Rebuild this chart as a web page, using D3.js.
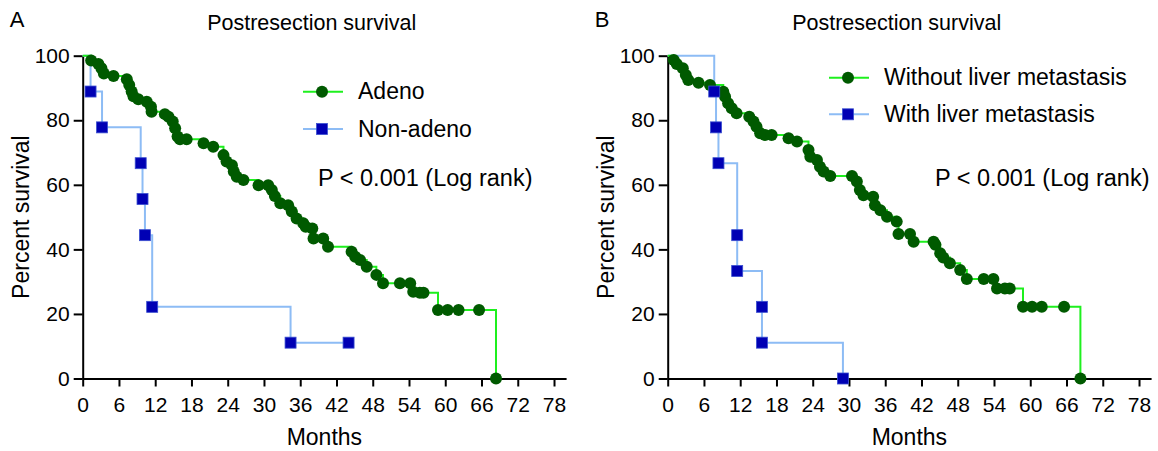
<!DOCTYPE html>
<html>
<head>
<meta charset="utf-8">
<script src="https://cdn.jsdelivr.net/npm/d3@7"></script>
<style>
  html, body { margin: 0; padding: 0; background: #fff; }
  svg { display: block; font-family: "Liberation Sans", Arial, sans-serif; }
</style>
</head>
<body>
<svg id="chart" width="1158" height="451"></svg>
<script>
// ---- data ----
const xTicks = [0, 6, 12, 18, 24, 30, 36, 42, 48, 54, 60, 66, 72, 78];
const yTicks = [0, 20, 40, 60, 80, 100];

// Panel A: Adeno
const adenoMonths = [1.4, 2.6, 3.1, 3.5, 5.1, 7.3, 7.7, 8.1, 8.4, 9.2, 10.6, 11.3, 11.4, 13.6, 14.2, 14.9, 15.3, 15.7, 16.1, 17.2,
  20.0, 21.6, 23.3, 23.8, 24.7, 25.0, 25.5, 26.6, 29.1, 30.7, 31.3, 31.8, 32.7, 34.0, 34.6, 35.4, 36.5, 36.9, 38.0, 38.2,
  39.8, 40.6, 44.5, 45.1, 45.9, 47.0, 48.6, 49.7, 52.5, 54.2, 54.7, 55.8, 56.4, 58.8, 60.4, 62.2, 65.6, 68.4];
const adenoSurv = [98.5, 97.4, 96.1, 94.5, 93.7, 92.7, 90.9, 88.9, 87.4, 86.5, 85.7, 84.2, 82.6, 81.9, 81.1, 79.6, 77.5, 75.0, 74.1, 74.1,
  72.9, 71.8, 69.2, 67.2, 66.1, 64.1, 62.5, 61.5, 59.9, 59.9, 58.4, 56.5, 54.3, 53.7, 51.7, 49.6, 48.1, 47.0, 46.5, 43.4,
  43.4, 40.8, 39.3, 37.7, 36.7, 34.6, 32.1, 29.5, 29.5, 29.5, 26.9, 26.6, 26.6, 21.2, 21.2, 21.2, 21.2, 0];

// Panel A: Non-adeno
const nonAdenoMonths = [1.3, 3.2, 9.6, 9.9, 10.3, 11.5, 34.4, 44.0];
const nonAdenoSurv = [88.9, 77.8, 66.7, 55.6, 44.4, 22.2, 11.1, 11.1];

// Panel B: Without liver metastasis
const noMetMonths = [1.0, 1.5, 2.5, 3.0, 3.4, 5.1, 7.0, 9.2, 9.5, 10.0, 10.6, 11.4, 13.5, 14.2, 14.7, 15.3, 16.1, 17.2,
  20.0, 21.4, 23.3, 23.6, 24.7, 25.2, 25.8, 26.9, 30.5, 31.3, 31.8, 32.4, 34.0, 34.3, 35.2, 36.3, 37.9, 38.2, 40.1, 40.7,
  44.0, 44.3, 45.1, 45.6, 46.7, 48.4, 49.5, 52.3, 53.9, 54.5, 55.8, 56.6, 58.8, 60.3, 61.9, 65.6, 68.3];
const noMetSurv = [98.7, 97.4, 96.1, 94.0, 92.5, 91.6, 90.9, 88.8, 87.3, 85.3, 83.7, 82.2, 81.1, 79.6, 78.0, 76.0, 75.4, 75.4,
  74.4, 73.4, 70.8, 68.7, 67.7, 65.6, 64.1, 62.7, 62.7, 61.0, 58.4, 56.8, 56.3, 53.7, 52.1, 50.1, 48.6, 44.8, 44.8, 42.4,
  42.4, 41.4, 38.8, 37.5, 35.7, 33.6, 30.8, 30.8, 30.8, 27.9, 27.9, 27.9, 22.2, 22.2, 22.2, 22.2, 0];

// Panel B: With liver metastasis
const metMonths = [7.7, 8.0, 8.4, 11.5, 11.5, 15.6, 15.6, 29.0];
const metSurv = [88.9, 77.8, 66.7, 44.4, 33.3, 22.2, 11.1, 0];

const GREEN_LINE = '#1ef01e', GREEN_DOT = '#005a00';
const BLUE_LINE = '#8dbcf5', BLUE_DOT = '#0000b4';

const svg = d3.select('#chart');

function series(months, surv) {
  return months.map((m, i) => ({ m, s: surv[i] }));
}

function drawPanel(o) {
  const x = d3.scaleLinear().domain([0, 80]).range([o.x0, o.x0 + 483.4]);
  const y = d3.scaleLinear().domain([0, 100]).range([378.5, 55.7]);
  const g = svg.append('g');

  // panel letter + title
  g.append('text').attr('x', o.x0 - 73).attr('y', 27).attr('font-size', 22).text(o.letter);
  g.append('text').attr('x', o.x0 + 229).attr('y', 30).attr('font-size', 21.5)
    .attr('text-anchor', 'middle').text('Postresection survival');

  // axes
  const ax = g.append('g').attr('transform', `translate(0,${y(0)})`)
    .call(d3.axisBottom(x).tickValues(xTicks).tickSize(8).tickPadding(11).tickSizeOuter(0));
  const ay = g.append('g').attr('transform', `translate(${x(0)},0)`)
    .call(d3.axisLeft(y).tickValues(yTicks).tickSize(9).tickPadding(4).tickSizeOuter(0));
  [ax, ay].forEach(a => {
    a.select('.domain').attr('stroke', '#000').attr('stroke-width', 2);
    a.selectAll('.tick line').attr('stroke', '#000').attr('stroke-width', 2);
    a.selectAll('text').attr('font-size', 21).attr('fill', '#000')
      .attr('font-family', '"Liberation Sans", Arial, sans-serif');
  });

  g.append('text').attr('x', (x(0) + x(80)) / 2).attr('y', 445).attr('font-size', 23)
    .attr('text-anchor', 'middle').text('Months');
  g.append('text').attr('transform', `translate(${o.x0 - 54},${y(50)}) rotate(-90)`)
    .attr('font-size', 23).attr('text-anchor', 'middle').text('Percent survival');

  const line = d3.line().x(d => x(d.m)).y(d => y(d.s)).curve(d3.curveStepAfter);

  // blue (drawn first), then green
  const blue = series(o.blueM, o.blueS);
  const green = series(o.greenM, o.greenS);

  g.append('path').datum([{ m: 0, s: 100 }, ...blue])
    .attr('fill', 'none').attr('stroke', BLUE_LINE).attr('stroke-width', 2).attr('d', line);
  g.append('path').datum([{ m: 0, s: 100 }, ...green])
    .attr('fill', 'none').attr('stroke', GREEN_LINE).attr('stroke-width', 2).attr('d', line);

  g.append('g').selectAll('circle').data(green).join('circle')
    .attr('cx', d => x(d.m)).attr('cy', d => y(d.s)).attr('r', 6)
    .attr('fill', GREEN_DOT);
  g.append('g').selectAll('rect').data(blue).join('rect')
    .attr('x', d => x(d.m) - 5.5).attr('y', d => y(d.s) - 5.5)
    .attr('width', 11).attr('height', 11)
    .attr('fill', BLUE_DOT).attr('stroke', '#3a4fd0').attr('stroke-width', 0.8);

  // legend
  const lg = g.append('g');
  const rows = [
    { label: o.greenLabel, y: o.legY[0], color: GREEN_LINE, shape: 'circle' },
    { label: o.blueLabel, y: o.legY[1], color: BLUE_LINE, shape: 'square' }
  ];
  rows.forEach(r => {
    lg.append('line').attr('x1', o.legX).attr('x2', o.legX + 40)
      .attr('y1', r.y).attr('y2', r.y).attr('stroke', r.color).attr('stroke-width', 2);
    if (r.shape === 'circle') {
      lg.append('circle').attr('cx', o.legX + 19).attr('cy', r.y).attr('r', 6).attr('fill', GREEN_DOT);
    } else {
      lg.append('rect').attr('x', o.legX + 13.5).attr('y', r.y - 5.5).attr('width', 11).attr('height', 11)
        .attr('fill', BLUE_DOT).attr('stroke', '#3a4fd0').attr('stroke-width', 0.8);
    }
    lg.append('text').attr('x', o.legX + 55).attr('y', r.y + 7.5).attr('font-size', 23).text(r.label);
  });

  g.append('text').attr('x', o.pX).attr('y', 186).attr('font-size', 23.5).text('P < 0.001 (Log rank)');
}

drawPanel({
  letter: 'A', x0: 82.7,
  greenM: adenoMonths, greenS: adenoSurv, blueM: nonAdenoMonths, blueS: nonAdenoSurv,
  greenLabel: 'Adeno', blueLabel: 'Non-adeno',
  legX: 303, legY: [91.7, 129], pX: 318
});
drawPanel({
  letter: 'B', x0: 667.7,
  greenM: noMetMonths, greenS: noMetSurv, blueM: metMonths, blueS: metSurv,
  greenLabel: 'Without liver metastasis', blueLabel: 'With liver metastasis',
  legX: 829, legY: [77.7, 114.3], pX: 935
});
</script>
</body>
</html>
